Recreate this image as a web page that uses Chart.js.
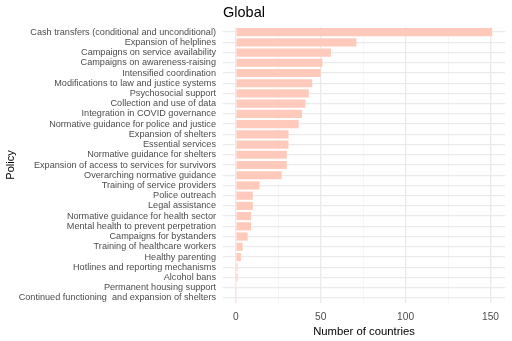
<!DOCTYPE html>
<html>
<head>
<meta charset="utf-8">
<script src="https://cdn.jsdelivr.net/npm/chart.js@4/dist/chart.umd.min.js"></script>
<style>
  html, body { margin: 0; padding: 0; background: #ffffff; }
  #wrap { width: 512px; height: 341px; }
</style>
</head>
<body>
<div id="wrap"><canvas id="chart" width="512" height="341"></canvas></div>
<script>
// Policy measures and how many countries adopted each
const policies = [
  "Cash transfers (conditional and unconditional)",
  "Expansion of helplines",
  "Campaigns on service availability",
  "Campaigns on awareness-raising",
  "Intensified coordination",
  "Modifications to law and justice systems",
  "Psychosocial support",
  "Collection and use of data",
  "Integration in COVID governance",
  "Normative guidance for police and justice",
  "Expansion of shelters",
  "Essential services",
  "Normative guidance for shelters",
  "Expansion of access to services for survivors",
  "Overarching normative guidance",
  "Training of service providers",
  "Police outreach",
  "Legal assistance",
  "Normative guidance for health sector",
  "Mental health to prevent perpetration",
  "Campaigns for bystanders",
  "Training of healthcare workers",
  "Healthy parenting",
  "Hotlines and reporting mechanisms",
  "Alcohol bans",
  "Permanent housing support",
  "Continued functioning  and expansion of shelters"
];
const countries = [151, 71, 56, 51, 50, 45, 43, 41, 39, 37, 31, 31, 30, 30, 27, 14, 10, 10, 9, 9, 7, 4, 3, 1, 1, 0.5, 0.5];
const xTicks = [0, 25, 50, 75, 100, 125, 150];
const xLabelled = [0, 50, 100, 150];

const FONT = "'Liberation Sans', Arial, Helvetica, sans-serif";

new Chart(document.getElementById('chart'), {
  type: 'bar',
  data: {
    labels: policies,
    datasets: [{
      data: countries,
      backgroundColor: '#ffcabb',
      borderWidth: 0,
      barPercentage: 0.8,
      categoryPercentage: 1.0
    }]
  },
  options: {
    indexAxis: 'y',
    responsive: false,
    animation: false,
    devicePixelRatio: 1,
    layout: { padding: { left: 0, right: 7, top: 0, bottom: 0 } },
    plugins: {
      legend: { display: false },
      tooltip: { enabled: false },
      title: {
        display: true,
        text: 'Global',
        align: 'start',
        fullSize: false,
        color: '#000000',
        font: { family: FONT, size: 14.5, weight: 'normal' },
        padding: { top: 4, bottom: 5.6 }
      }
    },
    scales: {
      x: {
        type: 'linear',
        min: -7.55,
        max: 158.55,
        afterBuildTicks: (scale) => { scale.ticks = xTicks.map(v => ({ value: v })); },
        afterFit: (scale) => { scale.height = 38; },
        border: { display: false },
        grid: {
          drawTicks: false,
          color: (ctx) => (xLabelled.includes(ctx.tick.value) ? '#ebebeb' : '#f4f4f4'),
          lineWidth: (ctx) => (xLabelled.includes(ctx.tick.value) ? 1.3 : 0.8)
        },
        ticks: {
          autoSkip: false,
          maxRotation: 0,
          padding: 8,
          color: '#4d4d4d',
          font: { family: FONT, size: 10.2 },
          callback: (v) => (xLabelled.includes(v) ? String(v) : '')
        },
        title: {
          display: true,
          text: 'Number of countries',
          color: '#000000',
          font: { family: FONT, size: 11.3 },
          padding: { top: 2, bottom: 2.5 }
        }
      },
      y: {
        type: 'category',
        offset: true,
        border: { display: false },
        afterFit: (scale) => { scale.width = 223; },
        grid: {
          offset: false,
          drawTicks: false,
          color: '#ebebeb',
          lineWidth: 1.3
        },
        ticks: {
          autoSkip: false,
          padding: 7,
          color: '#4d4d4d',
          font: { family: FONT, size: 9.15 }
        },
        title: {
          display: true,
          text: 'Policy',
          color: '#000000',
          font: { family: FONT, size: 11 },
          padding: { top: 4, bottom: 0 }
        }
      }
    }
  }
});
</script>
</body>
</html>
